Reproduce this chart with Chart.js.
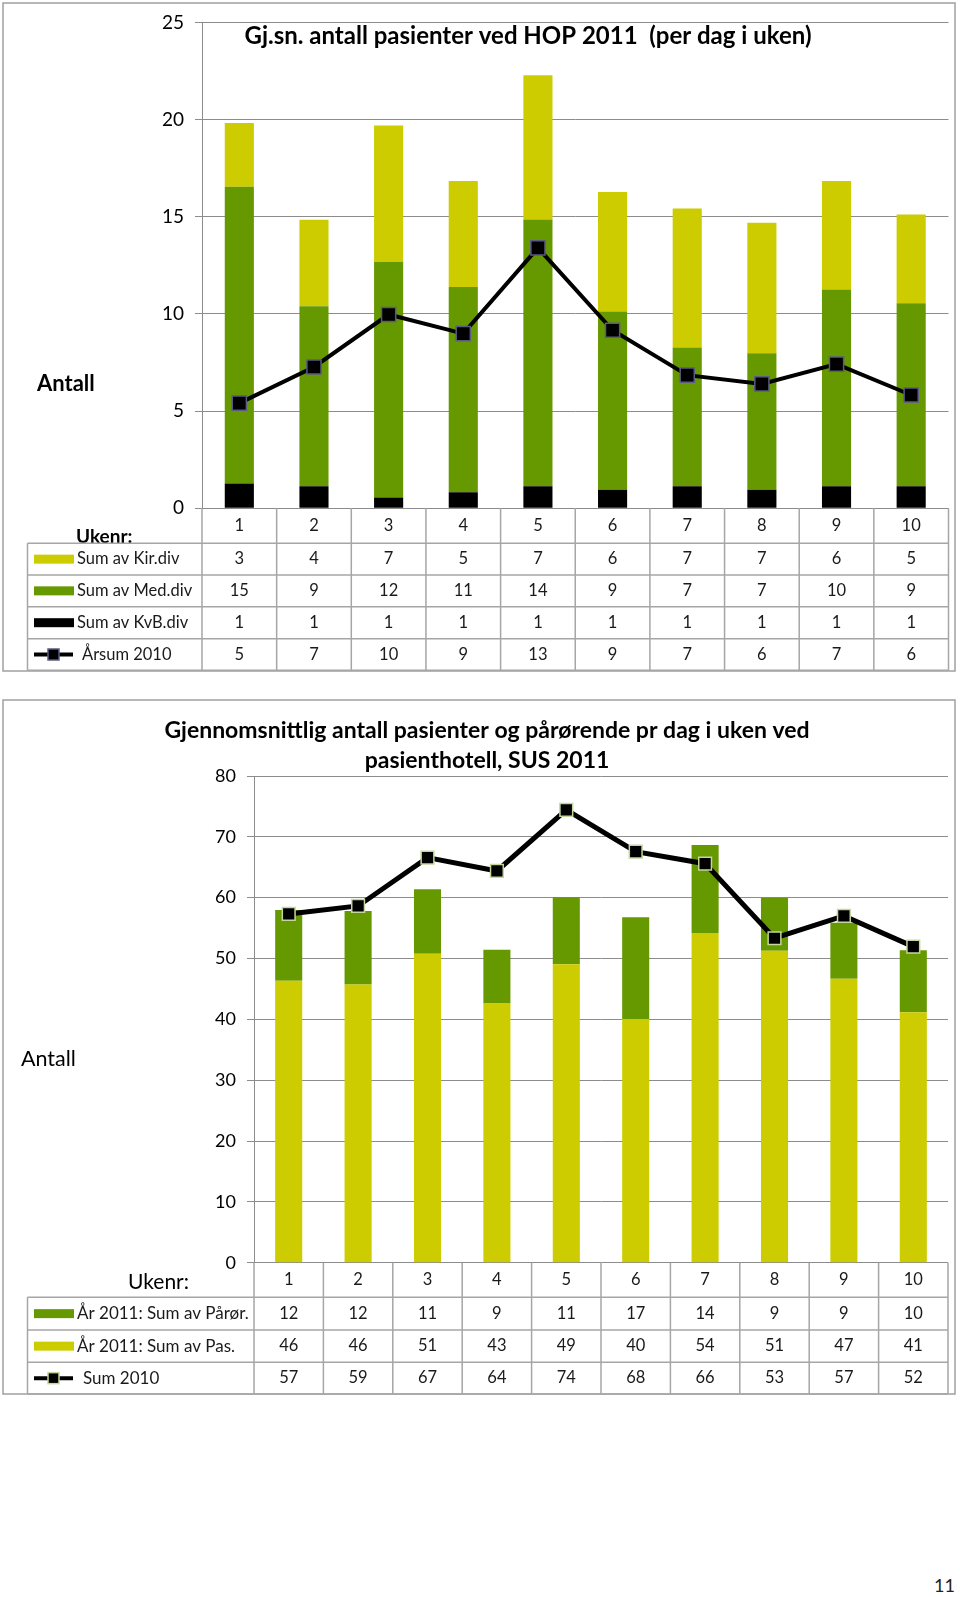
<!DOCTYPE html>
<html>
<head>
<meta charset="utf-8">
<script src="https://cdn.jsdelivr.net/npm/chart.js@4.4.1/dist/chart.umd.min.js"></script>
<style>
  body { margin: 0; background: #fff; }
  .wrap { position: relative; width: 960px; height: 1597px; }
  canvas { position: absolute; left: 0; }
  #hop { top: 0; }
  #sus { top: 690px; }
  .page { position: absolute; left: 934px; top: 1574px; font: 18px Lato, sans-serif; color: #222; }
</style>
</head>
<body>
<div class="wrap">
  <canvas id="hop" width="960" height="690"></canvas>
  <canvas id="sus" width="960" height="720"></canvas>
  <div class="page">11</div>
</div>
<script>
const weeks = ['1', '2', '3', '4', '5', '6', '7', '8', '9', '10'];

// HOP 2011, average per weekday (the table shows the rounded numbers)
const kirDiv = [3.28, 4.44, 7.01, 5.45, 7.42, 6.16, 7.15, 6.71, 5.58, 4.56];
const medDiv = [15.28, 9.27, 12.12, 10.56, 13.73, 9.16, 7.14, 7.02, 10.13, 9.42];
const kvbDiv = [1.27, 1.13, 0.56, 0.83, 1.13, 0.96, 1.13, 0.96, 1.13, 1.13];
const aarsum2010 = [5.41, 7.27, 9.97, 8.99, 13.40, 9.16, 6.85, 6.40, 7.42, 5.83];
const hopTicks = [0, 5, 10, 15, 20, 25];

// pasienthotell SUS 2011
const paaror2011 = [11.62, 12.11, 10.58, 8.86, 11.02, 16.72, 14.47, 8.71, 9.2, 10.19];
const pas2011 = [46.36, 45.71, 50.80, 42.6, 49.05, 40.06, 54.20, 51.29, 46.69, 41.16];
const sum2010 = [57.32, 58.64, 66.58, 64.39, 74.42, 67.57, 65.59, 53.33, 57.0, 51.95];
const susTicks = [0, 10, 20, 30, 40, 50, 60, 70, 80];

const YELLOW = '#cccc00';
const GREEN = '#669900';
const GRID = '#8c8c8c';
const TXT = '#1a1a1a';

// frame, free texts and the data table under the plot
const decor = {
  id: 'decor',
  afterDraw(chart, args, o) {
    const ctx = chart.ctx;
    const xs = chart.scales.x;
    const ys = chart.scales.y;
    const n = chart.data.labels.length;
    const cw = (xs.right - xs.left) / n;
    const top = ys.bottom;
    const lines = o.rowLines;
    const bottom = lines[lines.length - 1];

    ctx.save();
    ctx.strokeStyle = '#a0a0a0';
    ctx.lineWidth = 1.5;
    const f = o.frame;
    ctx.strokeRect(f[0], f[1], f[2] - f[0], f[3] - f[1]);

    ctx.textBaseline = 'middle';
    ctx.fillStyle = '#000';
    o.texts.forEach(t => {
      ctx.font = t.font;
      ctx.textAlign = t.align || 'left';
      ctx.fillText(t.text, t.x, t.y);
    });

    // grid of the table
    ctx.strokeStyle = '#a6a6a6';
    ctx.lineWidth = 1.5;
    ctx.beginPath();
    for (let i = 0; i <= n; i++) {
      const px = xs.left + i * cw;
      ctx.moveTo(px, top);
      ctx.lineTo(px, bottom);
    }
    lines.forEach(ly => {
      ctx.moveTo(o.tableLeft, ly);
      ctx.lineTo(xs.right, ly);
    });
    ctx.moveTo(o.tableLeft, lines[0]);
    ctx.lineTo(o.tableLeft, bottom);
    ctx.stroke();

    ctx.fillStyle = TXT;
    ctx.textAlign = 'center';
    ctx.font = o.cellFont;
    chart.data.labels.forEach((lab, i) => {
      ctx.fillText(lab, xs.getPixelForValue(i), (top + lines[0]) / 2);
    });

    o.rows.forEach((di, r) => {
      const ds = chart.data.datasets[di];
      const cy = (lines[r] + lines[r + 1]) / 2;
      ctx.fillStyle = TXT;
      ctx.textAlign = 'center';
      ctx.font = o.cellFont;
      ds.data.forEach((v, i) => {
        ctx.fillText(String(Math.round(v)), xs.getPixelForValue(i), cy);
      });

      let tx = o.keyText;
      if (ds.type === 'line') {
        ctx.strokeStyle = ds.borderColor;
        ctx.lineWidth = 4;
        ctx.beginPath();
        ctx.moveTo(34, cy);
        ctx.lineTo(73, cy);
        ctx.stroke();
        ctx.fillStyle = ds.pointBackgroundColor;
        ctx.fillRect(48, cy - 5.5, 11, 11);
        ctx.strokeStyle = ds.pointBorderColor;
        ctx.lineWidth = 1.5;
        ctx.strokeRect(48, cy - 5.5, 11, 11);
        tx = o.lineText;
      } else {
        ctx.fillStyle = ds.backgroundColor;
        ctx.fillRect(34, cy - 4.5, 40, 9);
      }
      ctx.fillStyle = TXT;
      ctx.textAlign = 'left';
      ctx.font = o.labelFont;
      ctx.fillText(ds.label, tx, cy);
    });
    ctx.restore();
  }
};

function yScale(ticks, width, fontSize) {
  return {
    min: ticks[0],
    max: ticks[ticks.length - 1],
    ticks: {
      stepSize: ticks[1] - ticks[0],
      color: '#000',
      padding: 11,
      font: { family: 'Lato', size: fontSize }
    },
    grid: { color: GRID, lineWidth: 1, tickLength: 7 },
    border: { display: true, color: GRID, width: 1 },
    afterFit(s) { s.width = width; }
  };
}

new Chart(document.getElementById('hop'), {
  type: 'bar',
  data: {
    labels: weeks,
    datasets: [
      { label: 'Sum av KvB.div', data: kvbDiv, backgroundColor: '#000000', stack: 'div', order: 1, barPercentage: 0.39, categoryPercentage: 1 },
      { label: 'Sum av Med.div', data: medDiv, backgroundColor: GREEN, stack: 'div', order: 1, barPercentage: 0.39, categoryPercentage: 1 },
      { label: 'Sum av Kir.div', data: kirDiv, backgroundColor: YELLOW, stack: 'div', order: 1, barPercentage: 0.39, categoryPercentage: 1 },
      {
        type: 'line', label: 'Årsum 2010', data: aarsum2010, stack: 'line', order: 0,
        borderColor: '#000000', borderWidth: 4,
        pointStyle: 'rect', pointRadius: 10, pointBackgroundColor: '#000000',
        pointBorderColor: '#5a5a85', pointBorderWidth: 1.5
      }
    ]
  },
  options: {
    responsive: false,
    animation: false,
    layout: { padding: { top: 15.3, bottom: 181.7, left: 0, right: 5 } },
    scales: {
      x: { display: false, stacked: true },
      y: { ...yScale(hopTicks, 202, 19), stacked: true }
    },
    plugins: {
      legend: { display: false },
      tooltip: { enabled: false },
      decor: {
        frame: [3, 3, 955, 671],
        tableLeft: 27.5,
        rowLines: [543.3, 575, 606.7, 638.7, 670.3],
        rows: [2, 1, 0, 3],
        keyText: 77,
        lineText: 82,
        cellFont: '16.5px Lato',
        labelFont: '16.5px Lato',
        texts: [
          { text: 'Gj.sn. antall pasienter ved HOP 2011  (per dag i uken)', x: 528, y: 36, align: 'center', font: 'bold 24px Lato' },
          { text: 'Antall', x: 37, y: 384, font: 'bold 22px Lato' },
          { text: 'Ukenr:', x: 76, y: 537, font: 'bold 19px Lato' }
        ]
      }
    }
  },
  plugins: [decor]
});

new Chart(document.getElementById('sus'), {
  type: 'bar',
  data: {
    labels: weeks,
    datasets: [
      { label: 'År 2011: Sum av Pas.', data: pas2011, backgroundColor: YELLOW, stack: 'aar', order: 1, barPercentage: 0.39, categoryPercentage: 1 },
      { label: 'År 2011: Sum av Pårør.', data: paaror2011, backgroundColor: GREEN, stack: 'aar', order: 1, barPercentage: 0.39, categoryPercentage: 1 },
      {
        type: 'line', label: 'Sum 2010', data: sum2010, stack: 'line', order: 0,
        borderColor: '#000000', borderWidth: 5,
        pointStyle: 'rect', pointRadius: 9, pointBackgroundColor: '#000000',
        pointBorderColor: '#c3d69b', pointBorderWidth: 1.5
      }
    ]
  },
  options: {
    responsive: false,
    animation: false,
    layout: { padding: { top: 86, bottom: 147.3, left: 0, right: 12 } },
    scales: {
      x: { display: false, stacked: true },
      y: { ...yScale(susTicks, 254, 18), stacked: true }
    },
    plugins: {
      legend: { display: false },
      tooltip: { enabled: false },
      decor: {
        frame: [3, 10, 955, 704],
        tableLeft: 27.5,
        rowLines: [607.3, 640, 672.3, 704],
        rows: [1, 0, 2],
        keyText: 77,
        lineText: 83,
        cellFont: '16.5px Lato',
        labelFont: '17px Lato',
        texts: [
          { text: 'Gjennomsnittlig antall pasienter og pårørende pr dag i uken ved', x: 487, y: 41, align: 'center', font: 'bold 23px Lato' },
          { text: 'pasienthotell, SUS 2011', x: 487, y: 71, align: 'center', font: 'bold 23px Lato' },
          { text: 'Antall', x: 21, y: 369, font: '21.5px Lato' },
          { text: 'Ukenr:', x: 128, y: 592, font: '21px Lato' }
        ]
      }
    }
  },
  plugins: [decor]
});
</script>
</body>
</html>
